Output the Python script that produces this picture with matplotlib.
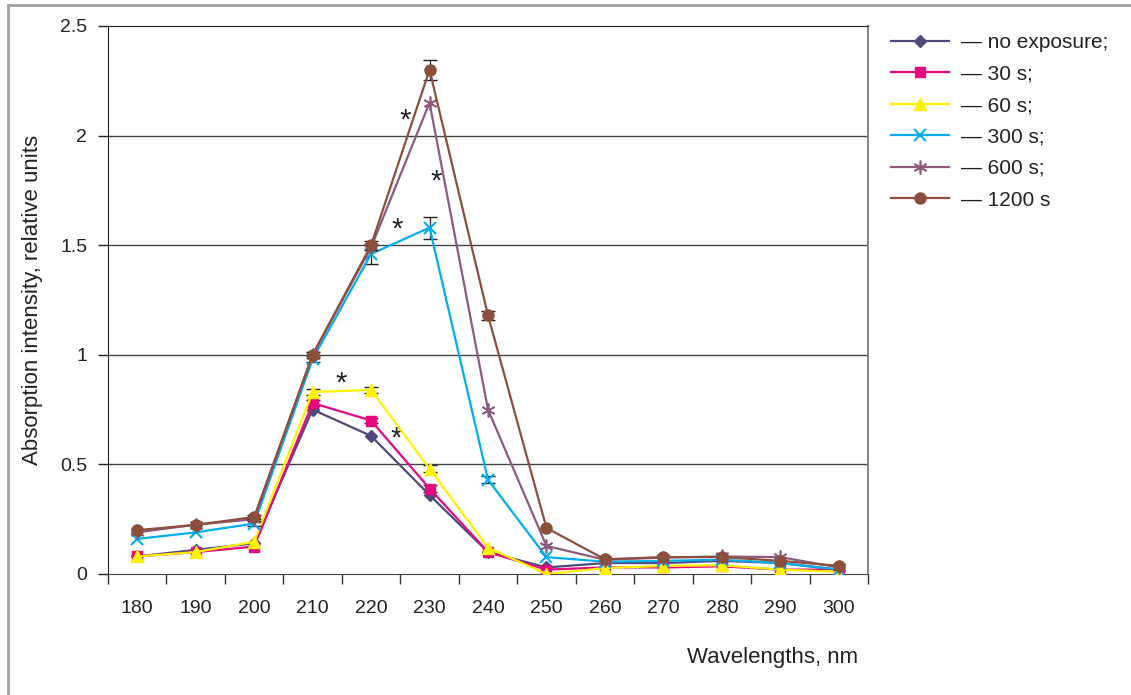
import numpy as np
import matplotlib
matplotlib.use("Agg")
import matplotlib.pyplot as plt
from matplotlib.lines import Line2D

plt.rcParams['font.family'] = ['Liberation Sans', 'DejaVu Sans']

wavelengths = ['180', '190', '200', '210', '220', '230', '240', '250', '260', '270', '280', '290', '300']

no_exposure = [0.08, 0.11, 0.14, 0.75, 0.63, 0.36, 0.10, 0.03, 0.05, 0.05, 0.06, 0.05, 0.02]
s30 = [0.08, 0.10, 0.125, 0.78, 0.70, 0.39, 0.10, 0.02, 0.03, 0.03, 0.035, 0.02, 0.02]
s60 = [0.08, 0.10, 0.147, 0.83, 0.84, 0.48, 0.12, 0.00, 0.027, 0.037, 0.04, 0.02, 0.01]
s300 = [0.16, 0.19, 0.23, 0.98, 1.46, 1.58, 0.43, 0.077, 0.056, 0.06, 0.065, 0.05, 0.02]
s600 = [0.19, 0.225, 0.25, 1.00, 1.49, 2.15, 0.75, 0.128, 0.065, 0.075, 0.08, 0.077, 0.03]
s1200 = [0.20, 0.224, 0.26, 1.00, 1.50, 2.30, 1.18, 0.21, 0.067, 0.077, 0.077, 0.06, 0.037]

err_s30 = [0, 0, 0, 0.015, 0.01, 0.015, 0, 0, 0, 0, 0, 0, 0]
err_s60 = [0, 0, 0, 0.015, 0.015, 0.015, 0, 0, 0, 0, 0, 0, 0]
err_s300 = [0, 0, 0.01, 0.015, 0.045, 0.05, 0.015, 0, 0, 0, 0, 0, 0]
err_s1200 = [0, 0, 0.01, 0.015, 0.02, 0.045, 0.022, 0, 0, 0, 0, 0, 0]

labels = ['— no exposure;', '— 30 s;', '— 60 s;', '— 300 s;', '— 600 s;', '— 1200 s']

# asterisks marking significant differences: (x position in category units, y)
star_x = [4.58, 5.11, 4.44, 3.48, 4.43]
star_y = [2.07, 1.79, 1.57, 0.87, 0.62]

series = [
    (no_exposure, None, '#4E4B7C', 'D', 6, 0),
    (s30, err_s30, '#E6087F', 's', 7, 0),
    (s60, err_s60, '#FFF200', '^', 9, 0),
    (s300, err_s300, '#00AEEF', 'x', 8, 1.5),
    (s600, None, '#8C5A7E', (6, 2, 0), 10, 1.2),
    (s1200, err_s1200, '#8B4F3C', 'o', 8, 0),
]

fig = plt.figure(figsize=(11.31, 6.95), dpi=100)
ax = fig.add_axes([108 / 1131, 1 - 574 / 695, (868 - 108) / 1131, (574 - 26) / 695])

x = np.arange(len(wavelengths))
handles = []
for i, (vals, err, color, marker, ms, mew) in enumerate(series):
    vals = np.array(vals)
    if err is not None:
        err = np.array(err)
        m = err > 0
        ax.errorbar(x[m], vals[m], yerr=err[m], fmt='none', ecolor='#222222',
                    elinewidth=0.9, capsize=5, capthick=1, zorder=2 + i)
    kw = dict(color=color, marker=marker, markersize=ms, linewidth=1.6, zorder=3 + i,
              markerfacecolor=color, markeredgecolor=color)
    if mew:
        kw['markeredgewidth'] = mew
    h, = ax.plot(x, vals, **kw)
    handles.append(h)

for sx, sy in zip(star_x, star_y):
    ax.text(sx, sy, '*', fontsize=21, ha='center', va='center', color='#222222')

ax.set_xlim(-0.5, len(wavelengths) - 0.5)
ax.set_ylim(0, 2.5)
ax.set_yticks([0, 0.5, 1, 1.5, 2, 2.5])
ax.set_yticklabels(['0', '0.5', '1', '1.5', '2', '2.5'])
ax.set_xticks(x)
ax.set_xticklabels(wavelengths)
ax.set_xticks(np.arange(len(wavelengths) + 1) - 0.5, minor=True)
ax.tick_params(axis='x', which='major', length=0, pad=19, labelsize=14, colors='#222222')
ax.tick_params(axis='x', which='minor', length=7, width=1, color='#333333')
ax.tick_params(axis='y', length=7, width=1, pad=8, labelsize=14, colors='#222222')

for yv in [0.5, 1, 1.5, 2]:
    ax.axhline(yv, color='#444444', linewidth=1, zorder=1)

ax.spines['top'].set_color('#222222')
ax.spines['left'].set_color('#222222')
ax.spines['bottom'].set_color('#444444')
ax.spines['right'].set_color('#888888')
ax.spines['right'].set_linewidth(1.5)

ax.set_ylabel('Absorption intensity, relative units', fontsize=16, color='#222222', labelpad=12)
fig.text(858 / 1131, 1 - 657 / 695, 'Wavelengths, nm', fontsize=16, ha='right', va='center',
         color='#222222')

fig.legend(handles, labels, loc='upper left', bbox_to_anchor=(891 / 1131, 1 - 33 / 695),
           frameon=False, fontsize=15, handlelength=2.8, handletextpad=0.55,
           labelspacing=0.6, borderpad=0, borderaxespad=0, labelcolor='#222222')

# outer chart border (left and top edges visible)
fig.add_artist(Line2D([8 / 1131, 8 / 1131], [0, 1 - 5 / 695], color='#A0A0A0', linewidth=2))
fig.add_artist(Line2D([8 / 1131, 1], [1 - 5 / 695, 1 - 5 / 695], color='#A0A0A0', linewidth=2))

fig.savefig('out.png', dpi=100)
